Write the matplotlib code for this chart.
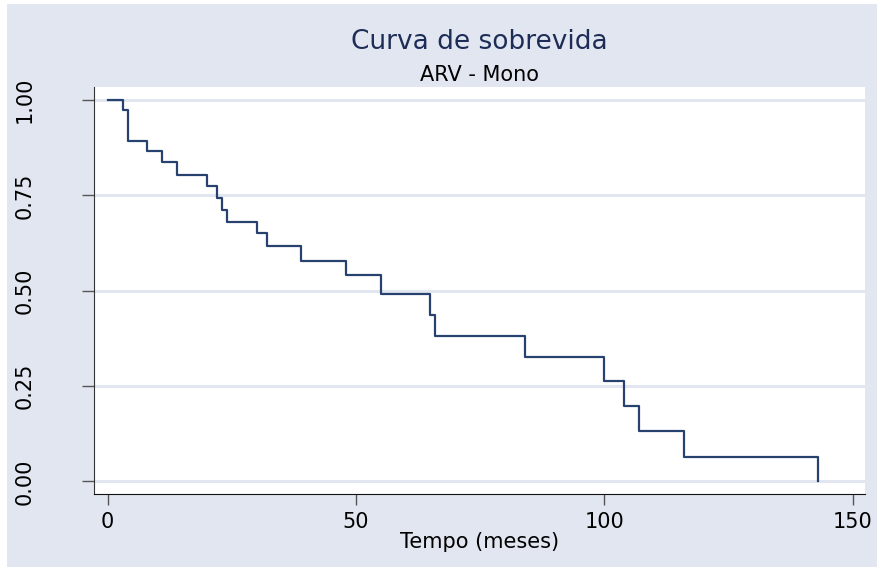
import numpy as np
from matplotlib import pyplot as plt

# Kaplan-Meier estimate
tempo = [0, 3, 4, 8, 11, 14, 20, 22, 23, 24, 30, 32, 39, 48, 55, 65, 66, 84,
         100, 104, 107, 116, 143]
sobrevida = [1.0, 0.974, 0.892, 0.865, 0.837, 0.804, 0.774, 0.743, 0.712,
             0.681, 0.650, 0.617, 0.579, 0.541, 0.492, 0.436, 0.382, 0.327,
             0.262, 0.197, 0.131, 0.065, 0.0]
xticks = [0, 50, 100, 150]
yticks = [0.0, 0.25, 0.5, 0.75, 1.0]
ytick_labels = ['0.00', '0.25', '0.50', '0.75', '1.00']

plt.rcParams['font.family'] = ['DejaVu Sans']

bg = '#E1E6F0'
fig = plt.figure(figsize=(8.78, 5.67), dpi=100)
fig.patch.set_facecolor('white')
fig.add_artist(plt.Rectangle((7/878, 0), 1 - 7/878, 1 - 4/567,
                             transform=fig.transFigure, facecolor=bg,
                             edgecolor='none', zorder=-10))

ax = fig.add_axes([94/878, 1 - 494/567, (865 - 94)/878, (494 - 87)/567])
ax.set_facecolor('white')
ax.step(tempo, sobrevida, where='post', color='#27426F', lw=1.6, zorder=3)

ax.set_xlim(-2.75, 152.5)
ax.set_ylim(-0.033, 1.034)
ax.set_xticks(xticks)
ax.set_yticks(yticks)
ax.set_yticklabels(ytick_labels, rotation=90, va='center')
ax.tick_params(axis='y', length=9, width=1, color='#555555', pad=34,
               labelsize=15)
ax.tick_params(axis='x', length=8, width=1, color='#555555', pad=5,
               labelsize=15)
for t in yticks:
    ax.axhline(t, color='#E1E6F0', lw=2.2, zorder=1)

for s in ['top', 'right']:
    ax.spines[s].set_visible(False)
ax.spines['left'].set_color('#333333')
ax.spines['bottom'].set_color('#111111')

ax.set_xlabel('Tempo (meses)', fontsize=15, labelpad=0)

fig.text(479.5/878, 1 - 49/567, 'Curva de sobrevida', ha='center',
         va='baseline', fontsize=19, color='#1E2D57')
fig.text(479.5/878, 1 - 81/567, 'ARV - Mono', ha='center', va='baseline',
         fontsize=15, color='black')

fig.savefig('out.png', dpi=100, facecolor=fig.get_facecolor())
